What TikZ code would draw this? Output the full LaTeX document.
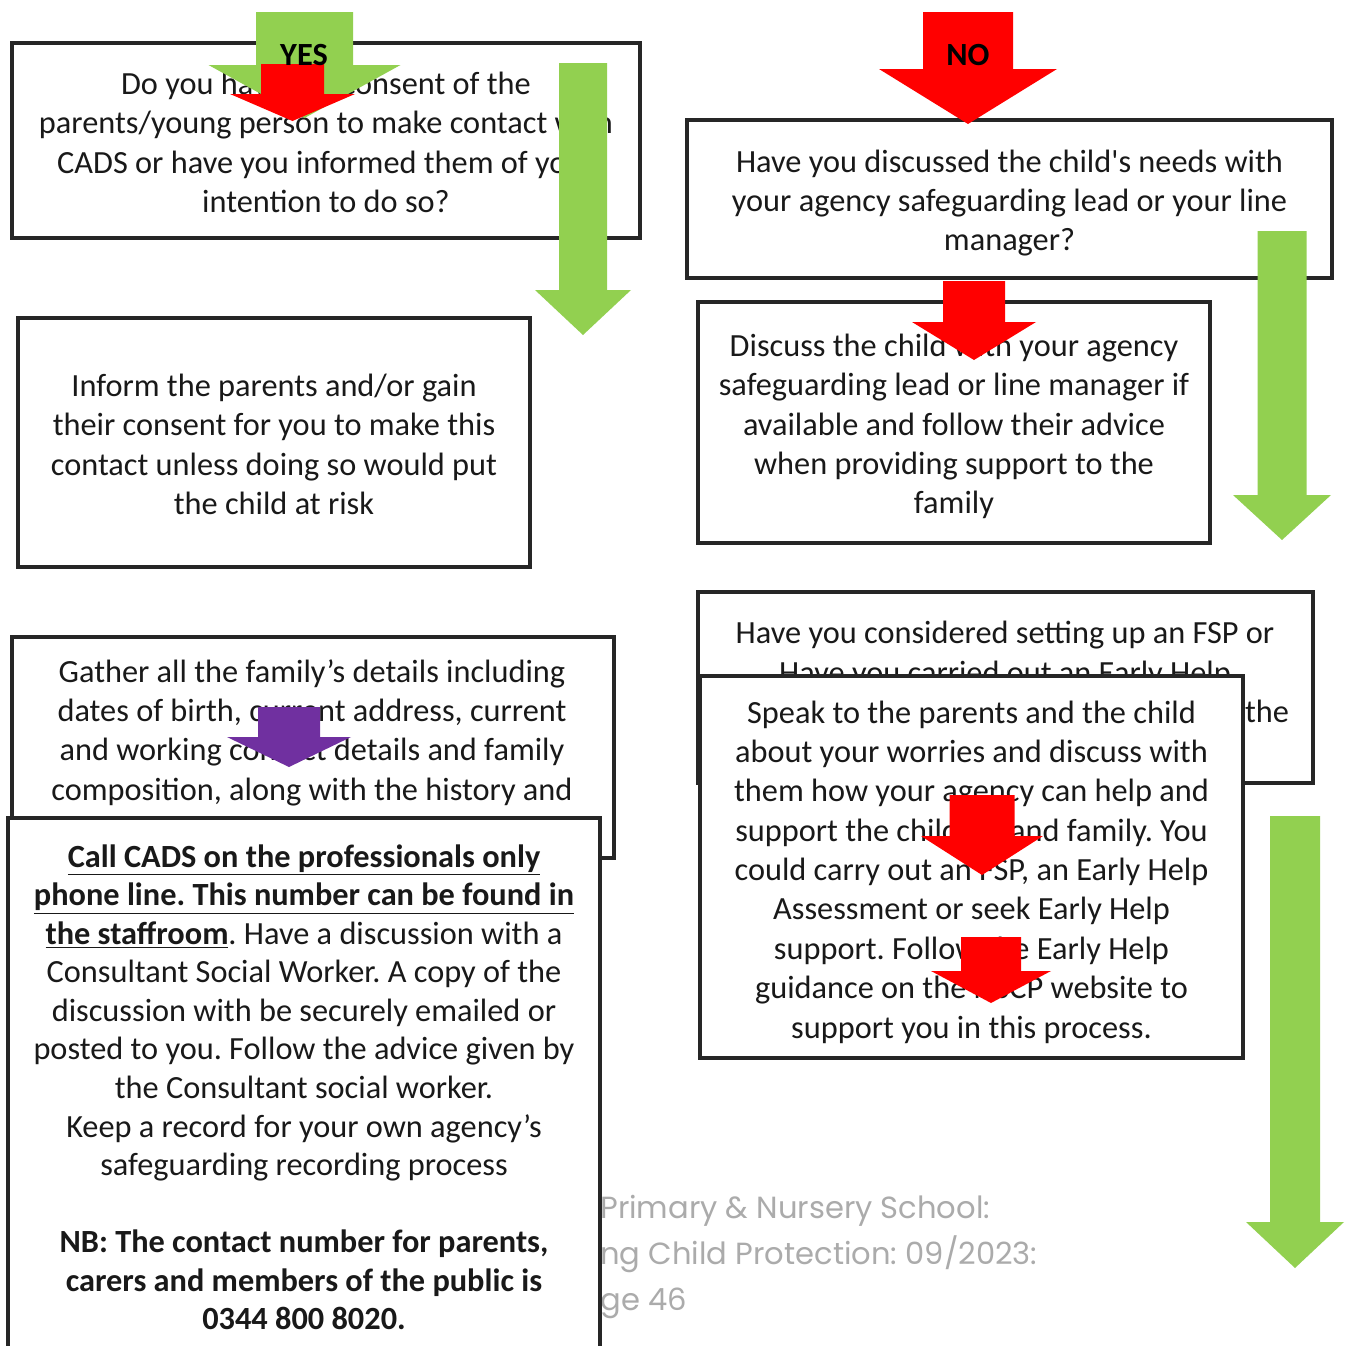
\documentclass[tikz,border=0pt]{standalone}
\usepackage{fontspec}
\setmainfont{Carlito}
\newfontfamily\footerfont{Poppins}
\definecolor{yesgreen}{HTML}{92D050}
\definecolor{nored}{HTML}{FF0000}
\definecolor{gatherpurple}{HTML}{7030A0}
\definecolor{footgray}{HTML}{ABABAB}
\frenchspacing
% colour, centre x, shaft half width, top, head base, wing half width, tip
\newcommand{\downblock}[7]{%
  \fill[#1] ({#2-#3},#4) -- ({#2+#3},#4) -- ({#2+#3},#5) -- ({#2+#6},#5)
    -- (#2,#7) -- ({#2-#6},#5) -- ({#2-#3},#5) -- cycle;}

\begin{document}
\begin{tikzpicture}[x=0.02cm, y=-0.02cm,
  box/.style={draw=black!85, line width=1.8pt, fill=white, inner sep=0pt},
  boxtext/.style={align=center, inner sep=0pt, text=black!90,
    font=\fontsize{18.4}{22.4}\selectfont},
  answer/.style={inner sep=0pt, font=\fontsize{18.4}{22}\selectfont\bfseries}]
\useasboundingbox (0,0) rectangle (1350,1346);
\clip (0,0) rectangle (1350,1346);
\fill[white] (0,0) rectangle (1350,1346);

% footer
\node[anchor=north west, align=left, inner sep=0pt, text=footgray,
  font=\footerfont\fontsize{17.4}{26.2}\selectfont] (footer) at (600,1195)
  {Primary \& Nursery School:\\ng Child Protection: 09/2023:\\ge 46};

% left column
\node[box, minimum width=12.56cm, minimum height=3.9cm] (consent) at (326,140.5) {};
\node[boxtext] (consenttext) at (326,142.5)
  {Do you have the consent of the\\parents/young person to make contact with\\CADS or have you informed them of your\\intention to do so?};
\downblock{yesgreen}{304.5}{48.5}{12}{65}{96}{118}
\downblock{nored}{292.5}{31.5}{64}{94}{62.5}{121}
\node[answer] (yes) at (304,55) {YES};
\downblock{yesgreen}{583}{24}{63}{290}{48}{335}

\node[box, minimum width=10.24cm, minimum height=4.98cm] (inform) at (274,442.5) {};
\node[boxtext] (informtext) at (274,444.5)
  {Inform the parents and/or gain\\their consent for you to make this\\contact unless doing so would put\\the child at risk};

\node[box, minimum width=12.04cm, minimum height=4.42cm] (gather) at (313,747.5) {};
\node[boxtext] (gathertext) at (312,732.5)
  {Gather all the family’s details including\\dates of birth, current address, current\\and working contact details and family\\composition, along with the history and};
\downblock{gatherpurple}{289}{31}{707}{737}{62}{767}

\node[box, minimum width=11.84cm, minimum height=12.04cm] (cads) at (304,1119) {};
\node[boxtext, anchor=north, font=\fontsize{18.4}{21.95}\selectfont] (cadstext) at (304,844)
  {\textbf{\underline{Call CADS on the professionals only}}\\
   \textbf{\underline{phone line. This number can be found in}}\\
   \textbf{\underline{the staffroom}}. Have a discussion with a\\
   Consultant Social Worker. A copy of the\\
   discussion with be securely emailed or\\
   posted to you. Follow the advice given by\\
   the Consultant social worker.\\
   Keep a record for your own agency’s\\
   safeguarding recording process\\[21.95pt]
   \textbf{NB: The contact number for parents,}\\
   \textbf{carers and members of the public is}\\
   \textbf{0344 800 8020.}};

% right column
\node[box, minimum width=12.9cm, minimum height=3.16cm] (discussed) at (1009.5,199) {};
\node[boxtext] (discussedtext) at (1009.5,203)
  {Have you discussed the child\textquotesingle s needs with\\your agency safeguarding lead or your line\\manager?};
\downblock{nored}{968}{45}{12}{69}{89}{124}
\node[answer] (no) at (968,55) {NO};
\downblock{yesgreen}{1282}{24.5}{231}{495}{49}{540}

\node[box, minimum width=10.24cm, minimum height=4.82cm] (lead) at (954,422.5) {};
\node[boxtext] (leadtext) at (954,426.5)
  {Discuss the child with your agency\\safeguarding lead or line manager if\\available and follow their advice\\when providing support to the\\family};
\downblock{nored}{974}{31}{281}{322}{62}{360}

\node[box, minimum width=12.3cm, minimum height=3.82cm] (fsp) at (1005.5,687.5) {};
\node[boxtext, anchor=north] (fsptext) at (1005,621)
  {Have you considered setting up an FSP or\\Have you carried out an Early Help};
\node[boxtext] (fspthe) at (1267,711) {the};

\node[box, minimum width=10.86cm, minimum height=7.64cm] (speak) at (971.5,867) {};
\node[boxtext] (speaktext) at (971.5,872)
  {Speak to the parents and the child\\about your worries and discuss with\\them how your agency can help and\\support the children and family. You\\could carry out an FSP, an Early Help\\Assessment or seek Early Help\\support. Follow the Early Help\\guidance on the NSCP website to\\support you in this process.};
\downblock{nored}{982}{32.5}{795}{836}{61}{875}
\downblock{nored}{991}{30}{937}{971}{60}{1003}

\downblock{yesgreen}{1295}{25}{816}{1222}{49}{1268}
\end{tikzpicture}
\end{document}
